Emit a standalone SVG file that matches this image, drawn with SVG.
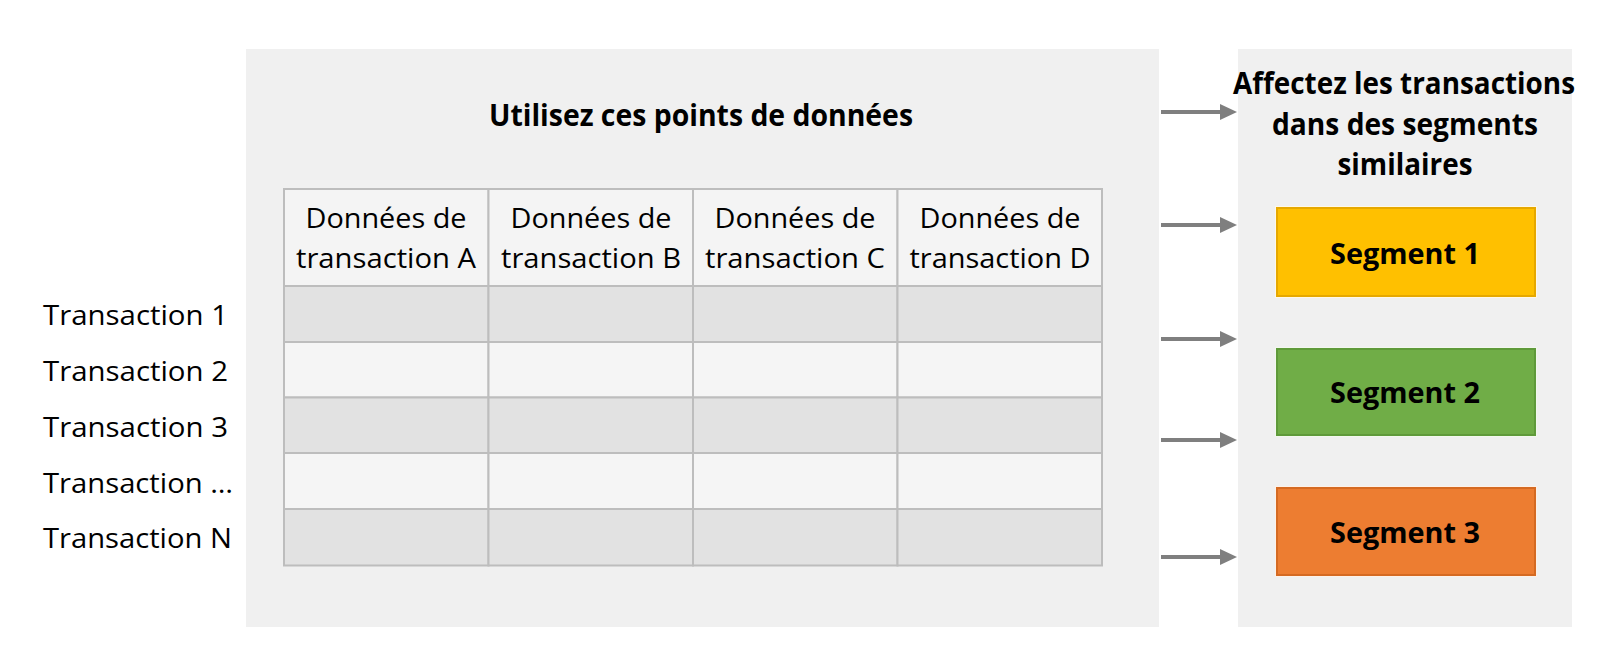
<svg xmlns="http://www.w3.org/2000/svg" width="1611" height="656" viewBox="0 0 1611 656">
<defs>
<marker id="ah" markerWidth="17" markerHeight="16" refX="0" refY="8" orient="auto" markerUnits="userSpaceOnUse">
<path d="M0,0 L17,8 L0,16 Z" fill="#7f7f7f"/>
</marker>
</defs>
<style>
.panel{fill:#f0f0f0}
.cell{stroke:#bdbdbd;stroke-width:2}
.hdr{fill:#f4f4f4}
.dk{fill:#e2e2e2}
.lt{fill:#f5f5f5}
.t{font-family:"Open Sans","Liberation Sans",sans-serif;fill:#000}
.h{font-size:27.5px;text-anchor:middle}
.r{font-size:28px}
.b{font-weight:bold;text-anchor:middle}
.seg{stroke-width:2}
.arr{stroke:#7f7f7f;stroke-width:4;fill:none}
</style>
<rect width="1611" height="656" fill="#ffffff"/>
<g id="left-panel">
<rect class="panel" x="246" y="49" width="913" height="578"/>
<text class="t b" x="701" y="126" font-size="30" textLength="424" lengthAdjust="spacingAndGlyphs">Utilisez ces points de données</text>
</g>
<g id="table">
<rect class="cell hdr" x="284" y="189" width="204.5" height="97"/>
<rect class="cell hdr" x="488.5" y="189" width="204.5" height="97"/>
<rect class="cell hdr" x="693" y="189" width="204.5" height="97"/>
<rect class="cell hdr" x="897.5" y="189" width="204.5" height="97"/>
<g>
<rect class="cell dk" x="284" y="286" width="204.5" height="56"/><rect class="cell dk" x="488.5" y="286" width="204.5" height="56"/><rect class="cell dk" x="693" y="286" width="204.5" height="56"/><rect class="cell dk" x="897.5" y="286" width="204.5" height="56"/>
<rect class="cell lt" x="284" y="342" width="204.5" height="55.5"/><rect class="cell lt" x="488.5" y="342" width="204.5" height="55.5"/><rect class="cell lt" x="693" y="342" width="204.5" height="55.5"/><rect class="cell lt" x="897.5" y="342" width="204.5" height="55.5"/>
<rect class="cell dk" x="284" y="397.5" width="204.5" height="55.5"/><rect class="cell dk" x="488.5" y="397.5" width="204.5" height="55.5"/><rect class="cell dk" x="693" y="397.5" width="204.5" height="55.5"/><rect class="cell dk" x="897.5" y="397.5" width="204.5" height="55.5"/>
<rect class="cell lt" x="284" y="453" width="204.5" height="56"/><rect class="cell lt" x="488.5" y="453" width="204.5" height="56"/><rect class="cell lt" x="693" y="453" width="204.5" height="56"/><rect class="cell lt" x="897.5" y="453" width="204.5" height="56"/>
<rect class="cell dk" x="284" y="509" width="204.5" height="56.5"/><rect class="cell dk" x="488.5" y="509" width="204.5" height="56.5"/><rect class="cell dk" x="693" y="509" width="204.5" height="56.5"/><rect class="cell dk" x="897.5" y="509" width="204.5" height="56.5"/>
</g>
<text class="t h" x="386" y="228" textLength="161" lengthAdjust="spacingAndGlyphs">Données de</text>
<text class="t h" x="386" y="268" textLength="180" lengthAdjust="spacingAndGlyphs">transaction A</text>
<text class="t h" x="591" y="228" textLength="161" lengthAdjust="spacingAndGlyphs">Données de</text>
<text class="t h" x="591" y="268" textLength="180" lengthAdjust="spacingAndGlyphs">transaction B</text>
<text class="t h" x="795" y="228" textLength="161" lengthAdjust="spacingAndGlyphs">Données de</text>
<text class="t h" x="795" y="268" textLength="180" lengthAdjust="spacingAndGlyphs">transaction C</text>
<text class="t h" x="1000" y="228" textLength="161" lengthAdjust="spacingAndGlyphs">Données de</text>
<text class="t h" x="1000" y="268" textLength="181" lengthAdjust="spacingAndGlyphs">transaction D</text>
</g>
<g id="row-labels">
<text class="t r" x="43" y="325" textLength="185" lengthAdjust="spacingAndGlyphs">Transaction 1</text>
<text class="t r" x="43" y="381" textLength="185" lengthAdjust="spacingAndGlyphs">Transaction 2</text>
<text class="t r" x="43" y="437" textLength="185" lengthAdjust="spacingAndGlyphs">Transaction 3</text>
<text class="t r" x="43" y="493" textLength="190" lengthAdjust="spacingAndGlyphs">Transaction …</text>
<text class="t r" x="43" y="548" textLength="189" lengthAdjust="spacingAndGlyphs">Transaction N</text>
</g>
<g id="right-panel">
<rect class="panel" x="1238" y="49" width="334" height="578"/>
<text class="t b" x="1404" y="94" font-size="30" textLength="342" lengthAdjust="spacingAndGlyphs">Affectez les transactions</text>
<text class="t b" x="1405" y="135" font-size="30" textLength="266" lengthAdjust="spacingAndGlyphs">dans des segments</text>
<text class="t b" x="1405" y="175" font-size="30" textLength="135" lengthAdjust="spacingAndGlyphs">similaires</text>
</g>
<g id="segment-1">
<rect x="1275" y="206" width="262" height="92" fill="#fff8e8"/>
<rect class="seg" x="1277" y="208" width="258" height="88" fill="#ffc000" stroke="#e6a800"/>
<text class="t b" x="1405" y="264" font-size="29" textLength="150" lengthAdjust="spacingAndGlyphs">Segment 1</text>
</g>
<g id="segment-2">
<rect x="1275" y="347" width="262" height="90" fill="#f2f8ee"/>
<rect class="seg" x="1277" y="349" width="258" height="86" fill="#70ad47" stroke="#5f9a3a"/>
<text class="t b" x="1405" y="403" font-size="29" textLength="150" lengthAdjust="spacingAndGlyphs">Segment 2</text>
</g>
<g id="segment-3">
<rect x="1275" y="486" width="262" height="91" fill="#fdf1e8"/>
<rect class="seg" x="1277" y="488" width="258" height="87" fill="#ed7d31" stroke="#d56a22"/>
<text class="t b" x="1405" y="543" font-size="29" textLength="150" lengthAdjust="spacingAndGlyphs">Segment 3</text>
</g>
<g id="connectors">
<line class="arr" x1="1161" y1="112" x2="1220" y2="112" marker-end="url(#ah)"/>
<line class="arr" x1="1161" y1="225" x2="1220" y2="225" marker-end="url(#ah)"/>
<line class="arr" x1="1161" y1="339" x2="1220" y2="339" marker-end="url(#ah)"/>
<line class="arr" x1="1161" y1="440" x2="1220" y2="440" marker-end="url(#ah)"/>
<line class="arr" x1="1161" y1="557" x2="1220" y2="557" marker-end="url(#ah)"/>
</g>
</svg>
